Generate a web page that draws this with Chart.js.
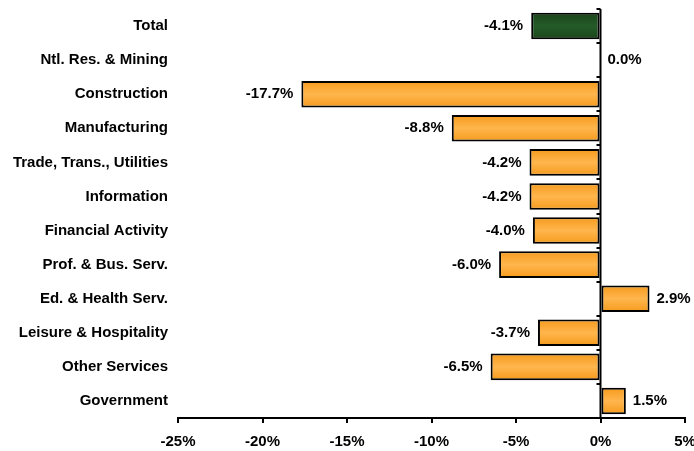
<!DOCTYPE html>
<html>
<head>
<meta charset="utf-8">
<script src="https://cdn.jsdelivr.net/npm/chart.js@4/dist/chart.umd.min.js"></script>
<style>
  html, body { margin: 0; padding: 0; background: #fff; }
  #wrap { width: 694px; height: 451px; }
</style>
</head>
<body>
<div id="wrap"><canvas id="c"></canvas></div>
<script>
// Employment change by industry (%)
const categories = [
  'Total', 'Ntl. Res. & Mining', 'Construction', 'Manufacturing',
  'Trade, Trans., Utilities', 'Information', 'Financial Activity',
  'Prof. & Bus. Serv.', 'Ed. & Health Serv.', 'Leisure & Hospitality',
  'Other Services', 'Government'
];
const changes = [-4.1, 0.0, -17.7, -8.8, -4.2, -4.2, -4.0, -6.0, 2.9, -3.7, -6.5, 1.5];
const xTicks = [-25, -20, -15, -10, -5, 0, 5];

const FONT = 'Liberation Sans, Arial, sans-serif';
const BAR_PCT = 0.78;

function barFill(ctx) {
  const chart = ctx.chart;
  const y = chart.scales && chart.scales.y;
  const isTotal = ctx.dataIndex === 0;
  const edge = isTotal ? '#1a461b' : '#f59a1c';
  const mid = isTotal ? '#245a28' : '#ffb64d';
  if (!y || !y.height) return edge;
  const c = y.getPixelForValue(ctx.dataIndex);
  const half = y.height / categories.length * BAR_PCT / 2;
  const g = chart.ctx.createLinearGradient(0, c - half, 0, c + half);
  g.addColorStop(0, edge);
  g.addColorStop(0.5, mid);
  g.addColorStop(1, edge);
  return g;
}

// Zero line with short ticks between categories, plus value labels
const decorations = {
  id: 'decorations',
  afterDatasetsDraw(chart) {
    const { ctx, scales: { x, y } } = chart;
    const x0 = x.getPixelForValue(0);
    ctx.save();
    ctx.strokeStyle = '#000';
    ctx.lineWidth = 2;
    ctx.beginPath();
    ctx.moveTo(x0, y.top);
    ctx.lineTo(x0, y.bottom);
    const step = y.height / categories.length;
    for (let i = 0; i <= categories.length; i++) {
      const yy = Math.round(y.top + i * step);
      ctx.moveTo(x0 - 4, yy);
      ctx.lineTo(x0, yy);
    }
    ctx.stroke();

    ctx.fillStyle = '#000';
    ctx.font = 'bold 15px ' + FONT;
    ctx.textBaseline = 'middle';
    const meta = chart.getDatasetMeta(0);
    meta.data.forEach((bar, i) => {
      const v = changes[i];
      const txt = v.toFixed(1) + '%';
      if (v < 0) {
        ctx.textAlign = 'right';
        ctx.fillText(txt, bar.x - 8, bar.y);
      } else {
        ctx.textAlign = 'left';
        ctx.fillText(txt, bar.x + 7, bar.y);
      }
    });
    ctx.restore();
  }
};

new Chart(document.getElementById('c'), {
  type: 'bar',
  data: {
    labels: categories,
    datasets: [{
      data: changes,
      backgroundColor: barFill,
      borderColor: '#000',
      borderWidth: 2,
      borderSkipped: false,
      barPercentage: BAR_PCT,
      categoryPercentage: 1.0
    }]
  },
  options: {
    indexAxis: 'y',
    responsive: true,
    maintainAspectRatio: false,
    animation: false,
    layout: { padding: { top: 9, right: 9, left: 0, bottom: 0 } },
    plugins: { legend: { display: false }, tooltip: { enabled: false } },
    scales: {
      x: {
        type: 'linear',
        min: -25,
        max: 5,
        afterBuildTicks(scale) { scale.ticks = xTicks.map(v => ({ value: v })); },
        afterFit(scale) {
          scale.height = 33;
          scale.paddingLeft = 0;
          scale.paddingRight = 0;
        },
        border: { display: true, color: '#000', width: 2 },
        grid: { drawOnChartArea: false, drawTicks: true, tickLength: 5, color: '#000', lineWidth: 2 },
        ticks: {
          color: '#000',
          padding: 10,
          maxRotation: 0,
          font: { family: FONT, size: 15, weight: 'bold' },
          callback: v => v + '%'
        }
      },
      y: {
        afterFit(scale) {
          scale.width = 178;
          scale.paddingTop = 0;
          scale.paddingBottom = 0;
        },
        border: { display: false },
        grid: { display: false },
        ticks: {
          color: '#000',
          padding: 2,
          font: { family: FONT, size: 15, weight: 'bold' }
        }
      }
    }
  },
  plugins: [decorations]
});
</script>
</body>
</html>
